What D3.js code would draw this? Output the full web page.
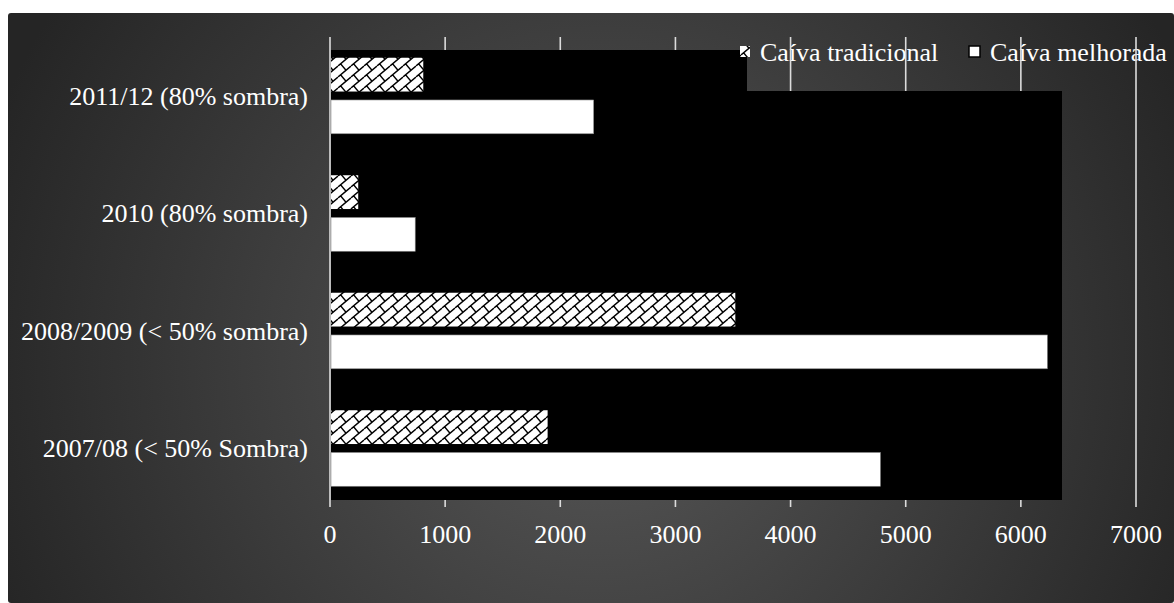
<!DOCTYPE html>
<html>
<head>
<meta charset="utf-8">
<script src="https://cdn.jsdelivr.net/npm/d3@7"></script>
<style>
  body { margin: 0; background: #fff; }
  text { font-family: "Liberation Serif", "Times New Roman", serif; fill: #fff; }
</style>
</head>
<body>
<div id="chart"></div>
<script>
// data
const categories = ["2011/12 (80% sombra)", "2010 (80% sombra)", "2008/2009 (< 50% sombra)", "2007/08 (< 50% Sombra)"];
const series = ["Caíva tradicional", "Caíva melhorada"];
const tradicional = [810, 245, 3520, 1890];
const melhorada = [2290, 740, 6230, 4780];
const ticks = [0, 1000, 2000, 3000, 4000, 5000, 6000, 7000];

const width = 1174, height = 603;
const fontSize = 26;

let svg = d3.select("#chart").append("svg")
    .attr("width", width).attr("height", height);

let defs = svg.append("defs");

let grad = defs.append("radialGradient").attr("id", "bg")
    .attr("gradientUnits", "userSpaceOnUse")
    .attr("cx", 600).attr("cy", 360).attr("r", 650);
grad.append("stop").attr("offset", "0%").attr("stop-color", "#585858");
grad.append("stop").attr("offset", "100%").attr("stop-color", "#252525");

// shingle hatch: one slanted line per tile plus a staggered cross piece
let pat = defs.append("pattern").attr("id", "shingle")
    .attr("patternUnits", "userSpaceOnUse")
    .attr("width", 13).attr("height", 11);
pat.append("rect").attr("width", 13).attr("height", 11).attr("fill", "#fff");
pat.append("path")
    .attr("d", "M0,11 L13,0 M-13,11 L0,0 M0,22 L13,11 M8,4.23 L2.57,-2.18 M8,15.23 L2.57,8.82")
    .attr("stroke", "#000").attr("stroke-width", 1.4).attr("fill", "none");

// background
svg.append("rect").attr("x", 8).attr("y", 13)
    .attr("width", width - 8).attr("height", height - 13)
    .attr("rx", 3).attr("fill", "url(#bg)");

let x = d3.scaleLinear().domain([0, 7000]).range([330, 1136]);
let y = d3.scaleBand().domain(categories).range([37, 507])
    .paddingInner(0.353).paddingOuter(0.1765);
let ySub = d3.scaleBand().domain(series).range([0, y.bandwidth()]).paddingInner(0.2);

// legend text (gridlines run over it in the original)
let legText = svg.append("g");
legText.append("text").attr("x", 760).attr("y", 61).attr("font-size", fontSize).text(series[0]);
legText.append("text").attr("x", 990).attr("y", 61).attr("font-size", fontSize).text(series[1]);

// gridlines
svg.append("g").selectAll("line").data(ticks).enter().append("line")
    .attr("x1", (d) => { return x(d); }).attr("x2", (d) => { return x(d); })
    .attr("y1", 37).attr("y2", 507)
    .attr("stroke", "#dcdcdc").attr("stroke-width", 1.6);

// black plot fill with notch under the legend
svg.append("path")
    .attr("d", "M331,50 H747 V91 H1062 V500 H331 Z")
    .attr("fill", "#000");

// bars
let rows = categories.map((c, i) => {
    return [{ cat: c, s: series[0], v: tradicional[i] }, { cat: c, s: series[1], v: melhorada[i] }];
}).flat();

svg.append("g").selectAll("rect").data(rows).enter().append("rect")
    .attr("x", x(0) + 1)
    .attr("y", (d) => { return y(d.cat) + ySub(d.s); })
    .attr("width", (d) => { return x(d.v) - x(0) - 1; })
    .attr("height", ySub.bandwidth())
    .attr("fill", (d) => { return d.s == series[0] ? "url(#shingle)" : "#fff"; })
    .attr("stroke", (d) => { return d.s == series[0] ? "none" : "#888"; })
    .attr("stroke-width", 0.6);

// legend markers sit on top of the black fill
let legMark = svg.append("g");
legMark.append("rect").attr("x", 740).attr("y", 46).attr("width", 10).attr("height", 11)
    .attr("fill", "url(#shingle)");
legMark.append("rect").attr("x", 969).attr("y", 46).attr("width", 11).attr("height", 11)
    .attr("fill", "#fff").attr("stroke", "#000").attr("stroke-width", 1.5);

// category labels
svg.append("g").selectAll("text").data(categories).enter().append("text")
    .attr("x", 308)
    .attr("y", (d) => { return y(d) + y.bandwidth() / 2; })
    .attr("dy", "0.35em")
    .attr("text-anchor", "end")
    .attr("font-size", fontSize)
    .text((d) => { return d; });

// tick labels
svg.append("g").selectAll("text").data(ticks).enter().append("text")
    .attr("x", (d) => { return x(d); })
    .attr("y", 543)
    .attr("text-anchor", "middle")
    .attr("font-size", fontSize)
    .text((d) => { return d; });
</script>
</body>
</html>
